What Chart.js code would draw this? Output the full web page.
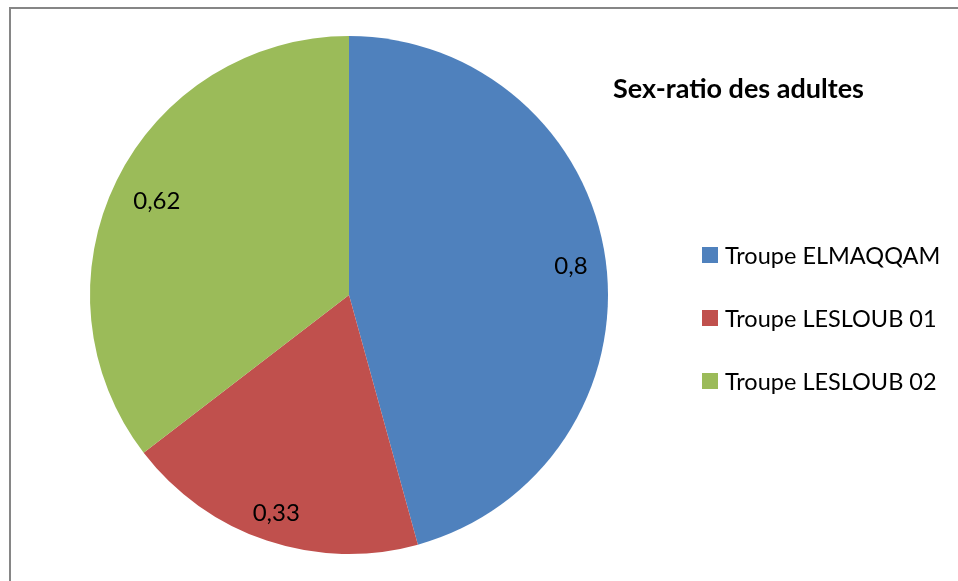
<!DOCTYPE html>
<html>
<head>
<meta charset="utf-8">
<script src="https://cdn.jsdelivr.net/npm/chart.js@4/dist/chart.umd.min.js"></script>
<style>
  html, body { margin: 0; padding: 0; background: #fff; }
  #wrap { width: 958px; height: 581px; position: relative; }
</style>
</head>
<body>
<div id="wrap"><canvas id="c" width="958" height="581"></canvas></div>
<script>
// Sex-ratio of adults per troop
const categories = ['Troupe ELMAQQAM', 'Troupe LESLOUB 01', 'Troupe LESLOUB 02'];
const sexRatio = [0.8, 0.33, 0.62];
const sliceColors = ['#4F81BD', '#C0504D', '#9BBB59'];
const chartTitle = 'Sex-ratio des adultes';

const FONT = 'Lato, "Open Sans", sans-serif';
// distance of each value label from the centre, as a share of the radius
const labelRadius = [0.865, 0.884, 0.827];

// Decimal comma labels
const fmt = v => String(v).replace('.', ',');

const decor = {
  id: 'decor',
  beforeDraw(chart) {
    const ctx = chart.ctx;
    ctx.save();
    ctx.fillStyle = '#fff';
    ctx.fillRect(0, 0, chart.width, chart.height);
    ctx.strokeStyle = '#868686';
    ctx.lineWidth = 2;
    ctx.strokeRect(10, 8, 960, 600);
    ctx.restore();
  },
  afterDatasetsDraw(chart) {
    const ctx = chart.ctx;
    const meta = chart.getDatasetMeta(0);
    ctx.save();
    // value labels inside slices
    ctx.fillStyle = '#000';
    ctx.font = '24px ' + FONT;
    ctx.textAlign = 'center';
    ctx.textBaseline = 'middle';
    meta.data.forEach((arc, i) => {
      const p = arc.getProps(['x', 'y', 'startAngle', 'endAngle', 'outerRadius'], true);
      const mid = (p.startAngle + p.endAngle) / 2;
      const r = p.outerRadius * labelRadius[i];
      ctx.fillText(fmt(sexRatio[i]), p.x + Math.cos(mid) * r, p.y + Math.sin(mid) * r + 1);
    });
    // title
    ctx.font = 'bold 27px ' + FONT;
    ctx.textAlign = 'left';
    ctx.fillText(chartTitle, 613, 89);
    // legend
    ctx.font = '23.5px ' + FONT;
    categories.forEach((name, i) => {
      const y = 255 + i * 63;
      ctx.fillStyle = sliceColors[i];
      ctx.fillRect(702, y - 8, 16, 16);
      ctx.fillStyle = '#000';
      ctx.fillText(name, 725, y + 1);
    });
    ctx.restore();
  }
};

new Chart(document.getElementById('c'), {
  type: 'pie',
  data: {
    labels: categories,
    datasets: [{
      data: sexRatio,
      backgroundColor: sliceColors,
      borderWidth: 0
    }]
  },
  options: {
    responsive: false,
    animation: false,
    rotation: 0,
    layout: { padding: { left: 90, right: 350, top: 36, bottom: 27 } },
    plugins: {
      legend: { display: false },
      title: { display: false },
      tooltip: { enabled: false }
    }
  },
  plugins: [decor]
});
</script>
</body>
</html>
